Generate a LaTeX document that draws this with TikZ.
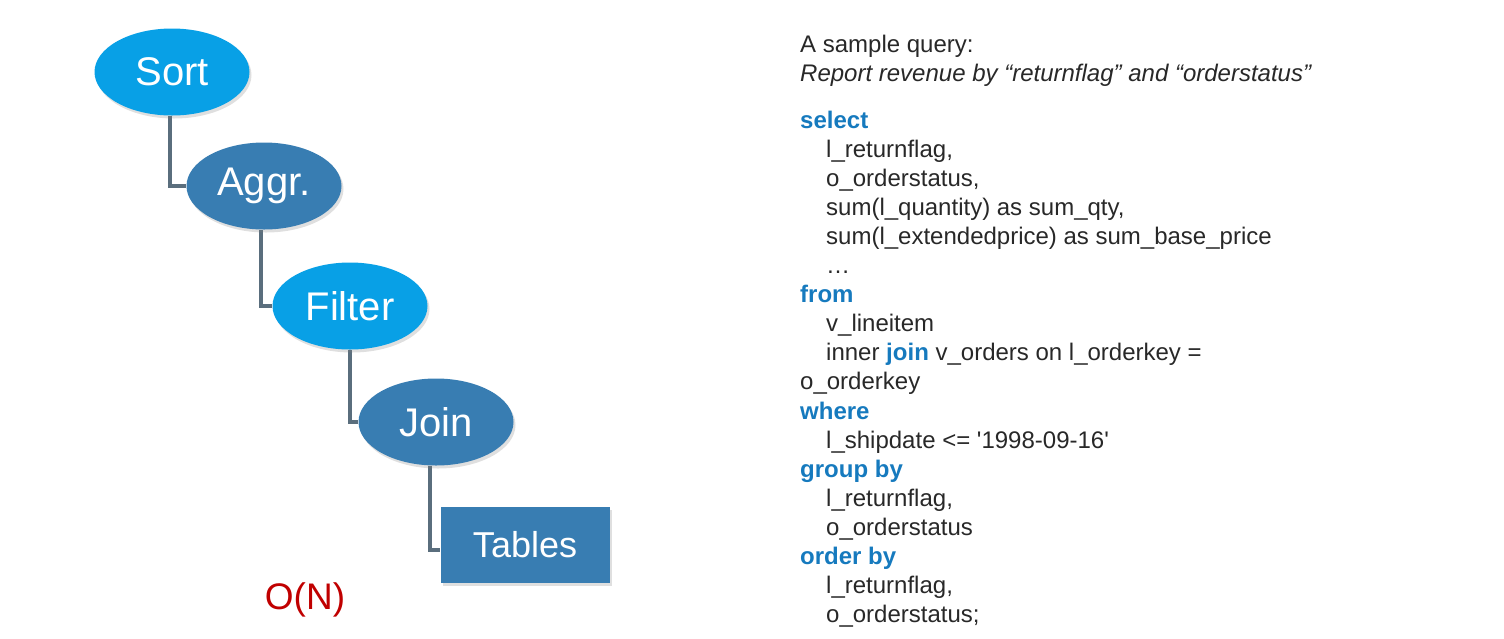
\documentclass[tikz,border=0pt]{standalone}
\usepackage{fontspec}
\setmainfont{Liberation Sans}
\usetikzlibrary{shapes.geometric,shadows,backgrounds}
\definecolor{lightblue}{RGB}{8,160,230}
\definecolor{darkblue}{RGB}{56,125,178}
\definecolor{connclr}{RGB}{90,110,125}
\definecolor{kwclr}{RGB}{22,122,190}
\definecolor{txtclr}{RGB}{40,40,40}
\definecolor{ordclr}{RGB}{192,0,0}
\tikzset{
  opnode/.style={ellipse, minimum width=155pt, minimum height=87pt, inner sep=0pt,
    text=white, font=\fontsize{40}{48}\selectfont,
    drop shadow={opacity=0.25, shadow xshift=2pt, shadow yshift=-3pt}},
  oplight/.style={opnode, fill=lightblue},
  opdark/.style={opnode, fill=darkblue},
  tblnode/.style={rectangle, fill=darkblue, minimum width=169pt, minimum height=76pt,
    inner sep=0pt, text=white, font=\fontsize{36}{43}\selectfont,
    drop shadow={opacity=0.25, shadow xshift=2pt, shadow yshift=-3pt}},
  conn/.style={draw=connclr, line width=4pt},
  qline/.style={anchor=base west, inner sep=0pt, text=txtclr, font=\fontsize{24}{29}\selectfont},
  kw/.style={qline, text=kwclr, font=\fontsize{24}{29}\selectfont\bfseries},
}
\begin{document}
\begin{tikzpicture}[x=1pt,y=-1pt]
\useasboundingbox (0,0) rectangle (1504,638);
% operator tree
\node[oplight] (sort) at (172,72) {Sort};
\node[opdark] (aggr) at (264,186) {Aggr.};
\node[oplight] (filter) at (350,306) {Filter};
\node[opdark] (join) at (436,422) {Join};
\node[tblnode] (tables) at (525,545) {Tables};
\begin{scope}[on background layer]
\draw[conn] ([xshift=-2pt]sort.south) |- (aggr.west);
\draw[conn] ([xshift=-3pt]aggr.south) |- (filter.west);
\draw[conn] (filter.south) |- (join.west);
\draw[conn] ([xshift=-6pt]join.south) |- ([yshift=-5pt]tables.west);
\end{scope}
\node[text=ordclr, font=\fontsize{37}{44}\selectfont, inner sep=0pt] (order) at (305,600) {O(N)};
% query text
\node[qline] (q0) at (800,52.7) {A sample query:};
\node[qline, font=\fontsize{24}{29}\selectfont\itshape] (q1) at (800,81.7) {Report revenue by “returnflag” and “orderstatus”};
\def\lh{29.1}
\node[kw] (l0) at (800,128) {select};
\node[qline] (l1) at (826,128+1*\lh) {l\_returnflag,};
\node[qline] (l2) at (826,128+2*\lh) {o\_orderstatus,};
\node[qline] (l3) at (826,128+3*\lh) {sum(l\_quantity) as sum\_qty,};
\node[qline] (l4) at (826,128+4*\lh) {sum(l\_extendedprice) as sum\_base\_price};
\node[qline] (l5) at (826,128+5*\lh) {…};
\node[kw] (l6) at (800,128+6*\lh) {from};
\node[qline] (l7) at (826,128+7*\lh) {v\_lineitem};
\node[qline] (l8) at (826,128+8*\lh) {inner {\color{kwclr}\bfseries join} v\_orders on l\_orderkey =};
\node[qline] (l9) at (800,128+9*\lh) {o\_orderkey};
\node[kw] (l10) at (800,128+10*\lh) {where};
\node[qline] (l11) at (826,128+11*\lh) {l\_shipdate <= \textquotesingle 1998-09-16\textquotesingle};
\node[kw] (l12) at (800,128+12*\lh) {group by};
\node[qline] (l13) at (826,128+13*\lh) {l\_returnflag,};
\node[qline] (l14) at (826,128+14*\lh) {o\_orderstatus};
\node[kw] (l15) at (800,128+15*\lh) {order by};
\node[qline] (l16) at (826,128+16*\lh) {l\_returnflag,};
\node[qline] (l17) at (826,128+17*\lh) {o\_orderstatus;};
\end{tikzpicture}
\end{document}
